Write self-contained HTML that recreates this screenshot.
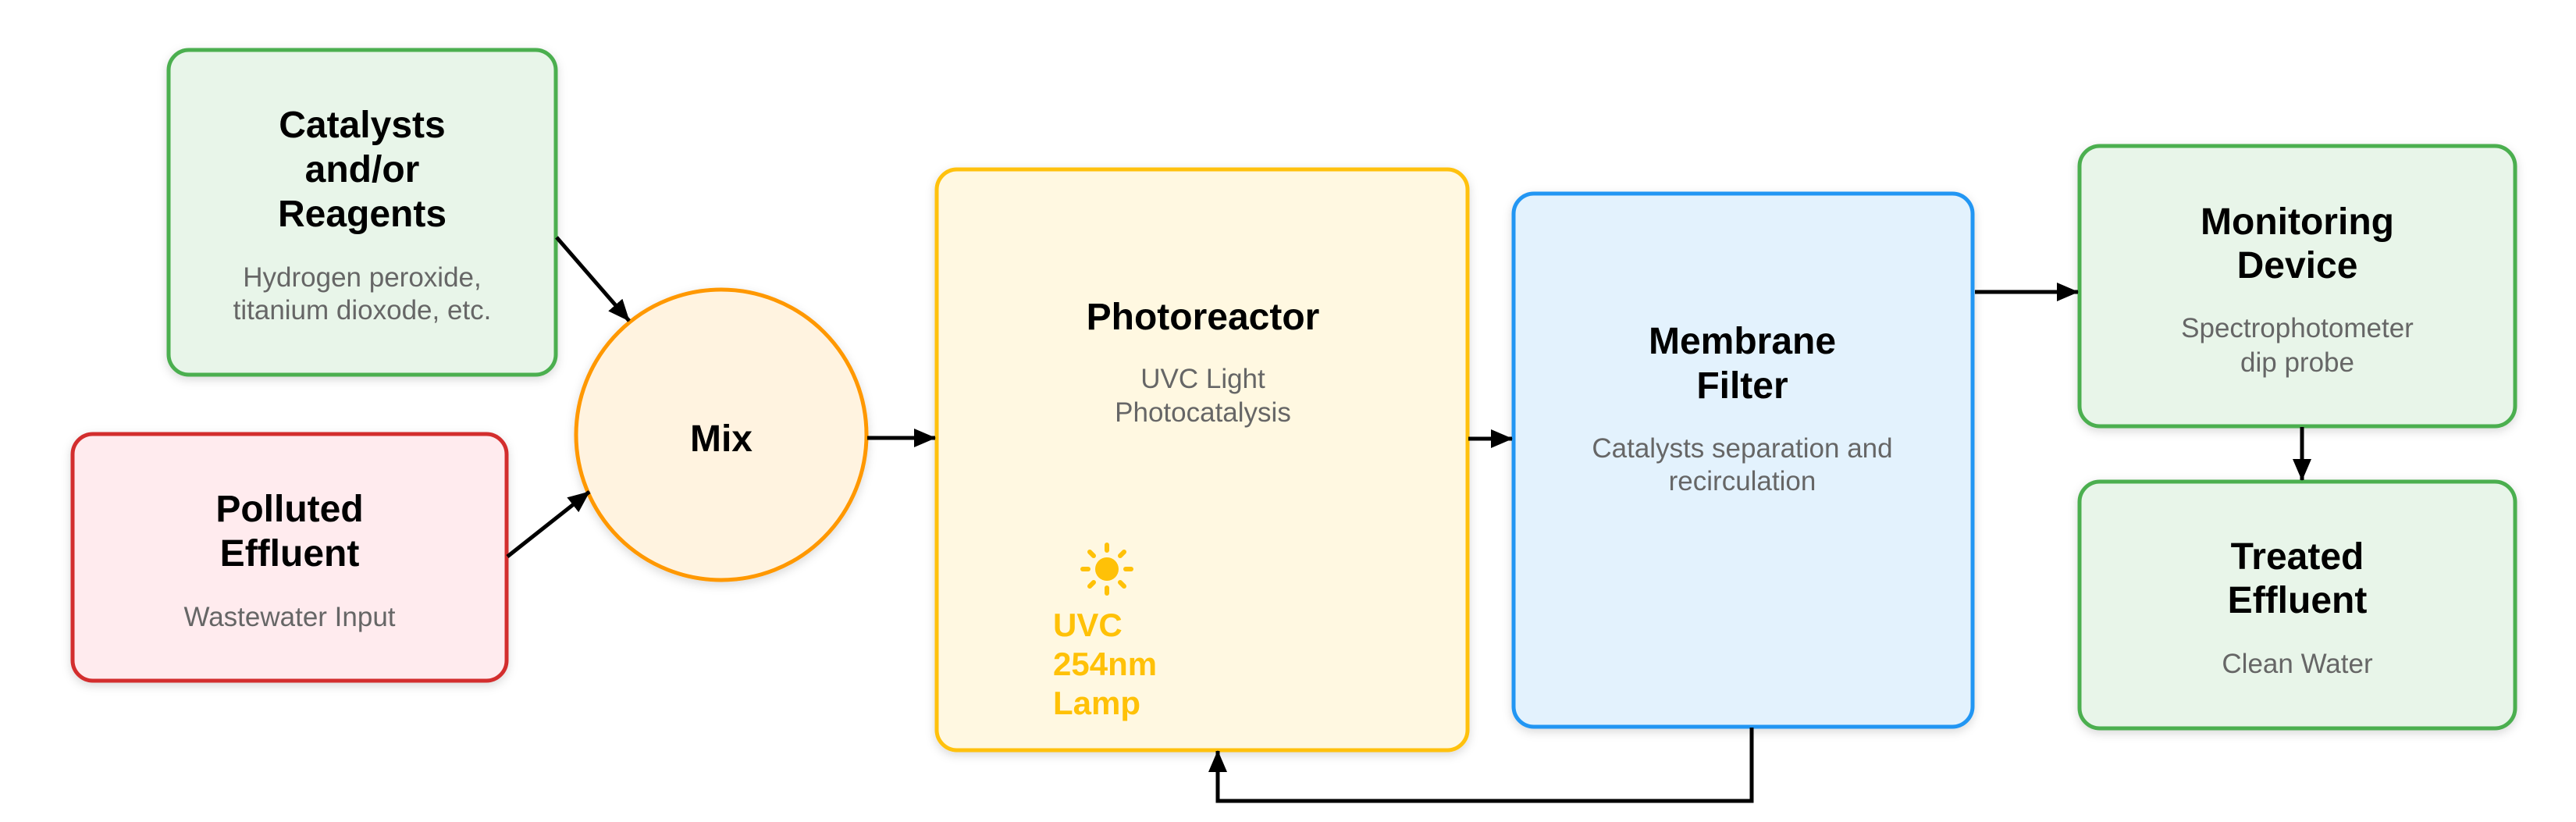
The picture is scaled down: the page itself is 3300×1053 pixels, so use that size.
<!DOCTYPE html>
<html><head><meta charset="utf-8"><style>
html,body{margin:0;padding:0;background:#fff;}
svg{display:block;}
.t{font-family:"Liberation Sans",Arial,sans-serif;font-weight:bold;font-size:48px;fill:#000;text-anchor:middle;}
.s{font-family:"Liberation Sans",Arial,sans-serif;font-size:35px;fill:#666;text-anchor:middle;}
.u{font-family:"Liberation Sans",Arial,sans-serif;font-weight:bold;font-size:42px;fill:#FFC107;}
</style></head><body>
<svg width="3300" height="1053" viewBox="0 0 3300 1053" xmlns="http://www.w3.org/2000/svg">
<defs>
<filter id="sh" x="-10%" y="-10%" width="120%" height="120%"><feDropShadow dx="0" dy="4" stdDeviation="6" flood-color="#000" flood-opacity="0.15"/></filter>
<marker id="ah" markerWidth="28" markerHeight="24" refX="27" refY="12" orient="auto" markerUnits="userSpaceOnUse" viewBox="0 0 28 24"><path d="M0,0 L28,12 L0,24 z" fill="#000"/></marker>
</defs>
<g filter="url(#sh)">
<rect x="216" y="64" width="496" height="416" rx="26" fill="#E8F5E9" stroke="#4CAF50" stroke-width="5"/>
<rect x="93" y="556" width="556" height="316" rx="26" fill="#FFEBEE" stroke="#D32F2F" stroke-width="5"/>
<circle cx="924" cy="557" r="186" fill="#FFF3E0" stroke="#FF9800" stroke-width="5"/>
<rect x="1200" y="217" width="680" height="744" rx="26" fill="#FFF8E1" stroke="#FFC107" stroke-width="5"/>
<rect x="1939" y="248" width="588" height="683" rx="26" fill="#E3F2FD" stroke="#2196F3" stroke-width="5"/>
<rect x="2664" y="187" width="558" height="359" rx="26" fill="#E8F5E9" stroke="#4CAF50" stroke-width="5"/>
<rect x="2664" y="617" width="558" height="316" rx="26" fill="#E8F5E9" stroke="#4CAF50" stroke-width="5"/>
</g>
<g stroke="#000" stroke-width="5" fill="none">
<line x1="713" y1="304" x2="806" y2="411" marker-end="url(#ah)"/>
<line x1="650" y1="713" x2="755" y2="630" marker-end="url(#ah)"/>
<line x1="1111" y1="561" x2="1198" y2="561" marker-end="url(#ah)"/>
<line x1="1881" y1="562" x2="1937" y2="562" marker-end="url(#ah)"/>
<line x1="2530" y1="374" x2="2662" y2="374" marker-end="url(#ah)"/>
<line x1="2949" y1="547" x2="2949" y2="615" marker-end="url(#ah)"/>
<polyline points="2244,932 2244,1026 1560,1026 1560,962" marker-end="url(#ah)"/>
</g>
<g stroke="#FFC107" stroke-width="6" stroke-linecap="round">
<circle cx="1418" cy="729" r="15" fill="#FFC107" stroke="none"/>
<line x1="1418" y1="705" x2="1418" y2="698"/>
<line x1="1418" y1="753" x2="1418" y2="760"/>
<line x1="1394" y1="729" x2="1387" y2="729"/>
<line x1="1442" y1="729" x2="1449" y2="729"/>
<line x1="1401" y1="712" x2="1396" y2="707"/>
<line x1="1435" y1="712" x2="1440" y2="707"/>
<line x1="1401" y1="746" x2="1396" y2="751"/>
<line x1="1435" y1="746" x2="1440" y2="751"/>
</g>
<text class="t" x="464" y="176">Catalysts</text>
<text class="t" x="464" y="233">and/or</text>
<text class="t" x="464" y="290">Reagents</text>
<text class="s" x="464" y="367">Hydrogen peroxide,</text>
<text class="s" x="464" y="409">titanium dioxode, etc.</text>
<text class="t" x="371" y="668">Polluted</text>
<text class="t" x="371" y="725">Effluent</text>
<text class="s" x="371" y="802">Wastewater Input</text>
<text class="t" x="924" y="578">Mix</text>
<text class="t" x="1541" y="422">Photoreactor</text>
<text class="s" x="1541" y="497">UVC Light</text>
<text class="s" x="1541" y="540">Photocatalysis</text>
<text class="u" x="1349" y="815">UVC</text>
<text class="u" x="1349" y="865">254nm</text>
<text class="u" x="1349" y="915">Lamp</text>
<text class="t" x="2232" y="453">Membrane</text>
<text class="t" x="2232" y="510">Filter</text>
<text class="s" x="2232" y="586">Catalysts separation and</text>
<text class="s" x="2232" y="628">recirculation</text>
<text class="t" x="2943" y="300">Monitoring</text>
<text class="t" x="2943" y="356">Device</text>
<text class="s" x="2943" y="432">Spectrophotometer</text>
<text class="s" x="2943" y="476">dip probe</text>
<text class="t" x="2943" y="729">Treated</text>
<text class="t" x="2943" y="785">Effluent</text>
<text class="s" x="2943" y="862">Clean Water</text>
</svg>
</body></html>
